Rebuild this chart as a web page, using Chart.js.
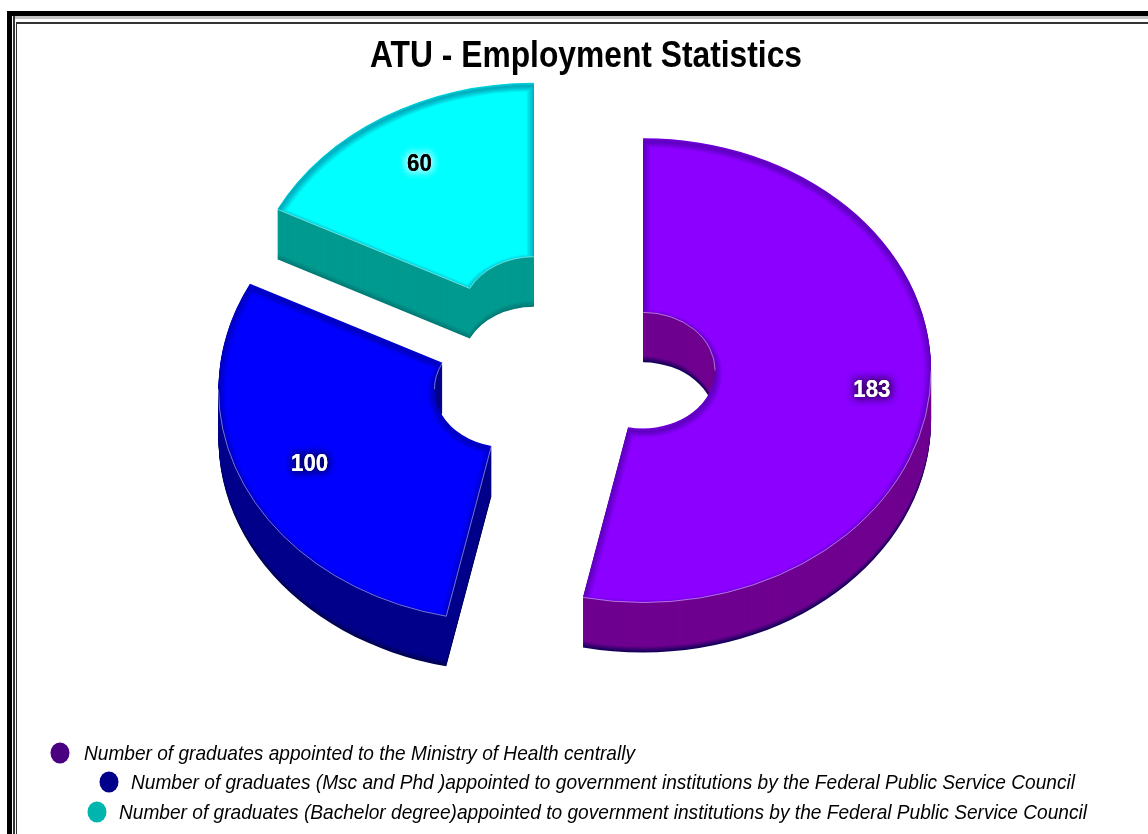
<!DOCTYPE html>
<html>
<head>
<meta charset="utf-8">
<style>html,body{margin:0;padding:0;background:#fff}canvas{display:block}</style>
<script src="https://cdn.jsdelivr.net/npm/chart.js@4/dist/chart.umd.js"></script>
</head>
<body>
<canvas id="c" width="1148" height="834"></canvas>
<script>
const titleText = 'ATU - Employment Statistics';
const categories = [
  'Number of graduates appointed to the Ministry of Health centrally',
  'Number of graduates (Msc and Phd )appointed to government institutions by the Federal Public Service Council',
  'Number of graduates (Bachelor degree)appointed to government institutions by the Federal Public Service Council'
];
const values = [183, 100, 60];
const topColors = ['#8b00ff', '#0000ff', '#00ffff'];
const sideColors = ['#6f0090', '#00008b', '#009a90'];
const sideEdgeColors = ['#14005a', '#000050', '#007a74'];
const legendColors = ['#4b0082', '#00008b', '#00b5ad'];
const labelColors = ['#ffffff', '#ffffff', '#000000'];
const labelHalo = ['#30005a', '#000060', '#c8ffff'];
const labelRadii = [230, 218, 219];
const legendRows = [
  {mx: 60, my: 753, tx: 84, ty: 760, w: 551},
  {mx: 109, my: 782, tx: 131, ty: 789, w: 944},
  {mx: 97, my: 812, tx: 119, ty: 819, w: 968}
];
const squash = 0.806, depth = 50, explode = 72;

function geom(arc) {
  const half = (arc.startAngle + arc.endAngle) / 2;
  return {cx: arc.x, cy: arc.y, dx: Math.cos(half) * explode, dy: Math.sin(half) * explode,
    s: arc.startAngle, e: arc.endAngle, R: arc.outerRadius, r: arc.innerRadius, half};
}
function facePath(g) {
  const p = new Path2D();
  p.arc(g.cx, g.cy, g.R, g.s, g.e);
  p.arc(g.cx, g.cy, g.r, g.e, g.s, true);
  p.closePath();
  return p;
}
function faceTransform(ctx, g) {
  ctx.translate(0, g.cy);
  ctx.scale(1, squash);
  ctx.translate(g.dx, g.dy - g.cy);
}
function mix(a, b, t) {
  const h = s => [1, 3, 5].map(k => parseInt(s.substr(k, 2), 16));
  const x = h(a), y = h(b);
  return 'rgb(' + x.map((v, i) => Math.round(v + (y[i] - v) * t)).join(',') + ')';
}
function overlap(a0, a1, b0, b1, f) {
  for (const k of [-2, 0, 2]) {
    const lo = Math.max(a0, b0 + k * Math.PI), hi = Math.min(a1, b1 + k * Math.PI);
    if (hi > lo) f(lo, hi);
  }
}

const solid = {
  id: 'solid',
  beforeDraw(chart) {
    const ctx = chart.ctx;
    ctx.save();
    ctx.fillStyle = '#fff'; ctx.fillRect(0, 0, 1148, 834);
    ctx.fillStyle = '#000';
    ctx.fillRect(7, 11, 1141, 5); ctx.fillRect(7, 11, 5, 823);
    ctx.fillStyle = '#c4c4c4';
    ctx.fillRect(13, 16, 1135, 3);
    ctx.fillStyle = '#333';
    ctx.fillRect(13, 16, 2, 818);
    ctx.fillRect(16, 22, 1132, 2); ctx.fillRect(16, 22, 1, 812);
    ctx.restore();
  },
  beforeDatasetDraw(chart) {
    const ctx = chart.ctx, arcs = chart.getDatasetMeta(0).data;
    arcs.forEach((arc, i) => {
      const g = geom(arc), p = facePath(g);
      for (let d = depth; d >= 1; d--) {
        const edge = Math.max(0, (d - (depth - 6)) / 6);
        ctx.save();
        ctx.translate(0, d);
        faceTransform(ctx, g);
        ctx.fillStyle = mix(sideColors[i], sideEdgeColors[i], edge);
        ctx.fill(p);
        ctx.restore();
      }
      ctx.save();
      faceTransform(ctx, g);
      arc.draw(ctx);
      ctx.save();
      ctx.clip(p);
      ctx.translate(0, 4);
      [14, 11, 8, 5, 2].forEach(w => {
        ctx.lineWidth = w;
        ctx.strokeStyle = 'rgba(0,0,50,0.07)';
        ctx.stroke(p);
      });
      ctx.restore();
      ctx.strokeStyle = i === 2 ? 'rgba(190,255,255,0.6)' : 'rgba(255,255,255,0.5)';
      ctx.lineWidth = 1;
      const line = f => { ctx.beginPath(); f(); ctx.stroke(); };
      overlap(g.s, g.e, 0, Math.PI, (a, b) => line(() => ctx.arc(g.cx, g.cy, g.R, a, b)));
      overlap(g.s, g.e, Math.PI, 2 * Math.PI, (a, b) => line(() => ctx.arc(g.cx, g.cy, g.r, a, b)));
      if (Math.cos(g.s) < -0.01) line(() => {
        ctx.moveTo(g.cx + Math.cos(g.s) * g.r, g.cy + Math.sin(g.s) * g.r);
        ctx.lineTo(g.cx + Math.cos(g.s) * g.R, g.cy + Math.sin(g.s) * g.R);
      });
      ctx.restore();
    });
    return false;
  },
  afterDraw(chart) {
    const ctx = chart.ctx, arcs = chart.getDatasetMeta(0).data;
    ctx.save();
    ctx.textAlign = 'center'; ctx.textBaseline = 'alphabetic';
    ctx.font = 'bold 36px "Liberation Sans"';
    ctx.fillStyle = '#000';
    ctx.fillText(titleText, 586, 67, 432);
    ctx.textBaseline = 'middle';
    ctx.font = 'bold 24px "Liberation Sans"';
    arcs.forEach((arc, i) => {
      const g = geom(arc);
      const x = g.cx + g.dx + Math.cos(g.half) * labelRadii[i];
      const y = g.cy + (g.dy + Math.sin(g.half) * labelRadii[i]) * squash;
      const t = String(values[i]);
      ctx.shadowColor = labelHalo[i]; ctx.shadowBlur = 8;
      ctx.fillStyle = labelColors[i];
      for (let k = 0; k < 3; k++) ctx.fillText(t, x, y, t.length * 12.4);
    });
    ctx.restore();
    ctx.save();
    ctx.font = 'italic 21px "Liberation Sans"';
    ctx.textAlign = 'left'; ctx.textBaseline = 'alphabetic';
    categories.forEach((label, i) => {
      const r = legendRows[i];
      ctx.beginPath();
      ctx.ellipse(r.mx, r.my, 9.5, 10.5, 0, 0, 2 * Math.PI);
      ctx.fillStyle = legendColors[i];
      ctx.fill();
      ctx.fillStyle = '#000';
      ctx.fillText(label, r.tx, r.ty, r.w);
    });
    ctx.restore();
  }
};

new Chart(document.getElementById('c'), {
  type: 'doughnut',
  data: {
    labels: categories,
    datasets: [{
      data: values,
      backgroundColor: topColors,
      borderWidth: 0,
      hoverOffset: 0,
      clip: false
    }]
  },
  options: {
    responsive: false,
    animation: false,
    events: [],
    radius: 288,
    cutout: '25%',
    layout: {padding: {left: 0, right: 5, top: 0, bottom: 105.4}},
    plugins: {
      legend: {display: false},
      tooltip: {enabled: false},
      title: {display: false}
    }
  },
  plugins: [solid]
});
</script>
</body>
</html>
